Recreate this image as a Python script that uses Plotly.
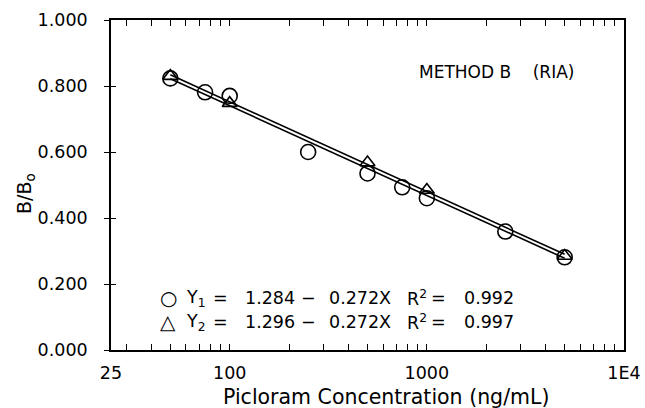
import plotly.graph_objects as go

# Data
conc_y1 = [50, 75, 100, 250, 500, 750, 1000, 2500, 5000]
bbo_y1 = [0.823, 0.781, 0.770, 0.600, 0.535, 0.493, 0.460, 0.359, 0.281]
conc_y2 = [50, 100, 500, 1000, 5000]
bbo_y2 = [0.830, 0.748, 0.568, 0.485, 0.285]

fit_x = [50, 5000]
fit_y1 = [0.822, 0.278]
fit_y2 = [0.834, 0.290]

x_tickvals = [25, 100, 1000, 10000]
x_ticktext = ["25", "100", "1000", "1E4"]
x_minor = [30, 40, 50, 60, 70, 80, 90, 200, 300, 400, 500, 600, 700, 800, 900,
           2000, 3000, 4000, 5000, 6000, 7000, 8000, 9000]
y_tickvals = [0.0, 0.2, 0.4, 0.6, 0.8, 1.0]
y_ticktext = ["0.000", "0.200", "0.400", "0.600", "0.800", "1.000"]

# Equation legend tokens (text, left x in px)
eq1_tokens = ["Y<sub>1</sub>", "=", "1.284", "−", "0.272X", "R<sup>2</sup>", "=", "0.992"]
eq2_tokens = ["Y<sub>2</sub>", "=", "1.296", "−", "0.272X", "R<sup>2</sup>", "=", "0.997"]
eq_token_x = [184, 211, 243, 299, 327, 405, 429, 462]

FONT = "DejaVu Sans"
L, T, PW, PH = 111, 20, 513, 330   # plot area in page pixels
W, H = 645, 408


def px(xp):
    return (xp - L) / PW


def py(yp):
    return (T + PH - yp) / PH


fig = go.Figure()
fig.add_trace(go.Scatter(x=fit_x, y=fit_y1, mode="lines",
                         line=dict(color="black", width=1.6), showlegend=False))
fig.add_trace(go.Scatter(x=fit_x, y=fit_y2, mode="lines",
                         line=dict(color="black", width=1.6), showlegend=False))
fig.add_trace(go.Scatter(x=conc_y1, y=bbo_y1, mode="markers",
                         marker=dict(symbol="circle-open", size=15, color="black",
                                     line=dict(width=1.6, color="black")),
                         showlegend=False))
fig.add_trace(go.Scatter(x=conc_y2, y=bbo_y2, mode="markers",
                         marker=dict(symbol="triangle-up-open", size=13, color="black",
                                     line=dict(width=1.6, color="black")),
                         showlegend=False))
fig.add_trace(go.Scatter(x=[25], y=[0], yaxis="y2", mode="markers",
                         marker=dict(opacity=0), showlegend=False, hoverinfo="skip"))

fig.update_layout(
    width=W, height=H,
    margin=dict(l=L, r=W - L - PW, t=T, b=H - T - PH, autoexpand=False),
    paper_bgcolor="white", plot_bgcolor="white",
    font=dict(family=FONT, size=17, color="black"),
    xaxis=dict(type="log", range=[1.39794, 4.0], automargin=False,
               tickmode="array", tickvals=x_tickvals, ticktext=x_ticktext,
               ticks="inside", ticklen=6, tickwidth=1.3, tickcolor="black",
               minor=dict(tickmode="array", tickvals=x_minor, ticks="inside",
                          ticklen=4, tickwidth=1, tickcolor="black"),
               showline=True, linecolor="black", linewidth=1.6, mirror="allticks",
               showgrid=False, zeroline=False, ticklabelstandoff=6,
               tickfont=dict(family=FONT, size=17.5)),
    yaxis=dict(range=[0, 1.0], automargin=False,
               tickmode="array", tickvals=y_tickvals, ticktext=y_ticktext,
               ticks="outside", ticklen=5, tickwidth=1.3, tickcolor="black",
               showline=True, linecolor="black", linewidth=1.6, mirror=True,
               showgrid=False, zeroline=False, ticklabelstandoff=13,
               tickfont=dict(family=FONT, size=17.5)),
    yaxis2=dict(range=[0, 1.0], overlaying="y", automargin=False,
                tickmode="array", tickvals=y_tickvals,
                ticks="inside", ticklen=5, tickwidth=1.3, tickcolor="black",
                showticklabels=False, showline=False, showgrid=False, zeroline=False),
)

fig.add_annotation(text="Picloram Concentration (ng/mL)", xref="paper", yref="paper",
                   x=px(386), y=py(397), yanchor="middle", xanchor="center",
                   showarrow=False, font=dict(family=FONT, size=20.5))
fig.add_annotation(text="B/B<sub>o</sub>", xref="paper", yref="paper",
                   x=px(25), y=py(194), textangle=-90,
                   xanchor="center", yanchor="middle", showarrow=False,
                   font=dict(family=FONT, size=19))
fig.add_annotation(text="METHOD B    (RIA)", xref="paper", yref="paper",
                   x=px(417), y=py(72), xanchor="left", yanchor="middle",
                   showarrow=False, font=dict(family=FONT, size=17))

for sym, toks, yc in (("○", eq1_tokens, 298), ("△", eq2_tokens, 322)):
    fig.add_annotation(text=sym, xref="paper", yref="paper", x=px(168), y=py(yc),
                       xanchor="center", yanchor="middle", showarrow=False,
                       font=dict(family=FONT, size=20))
    for tok, xl in zip(toks, eq_token_x):
        fig.add_annotation(text=tok, xref="paper", yref="paper", x=px(xl), y=py(yc),
                           xanchor="left", yanchor="middle", showarrow=False,
                           font=dict(family=FONT, size=17.5))

fig.write_html("out.html",
               config={"displayModeBar": False},
               post_script="document.body.style.margin='0';"
                           "document.body.style.overflow='hidden';")
